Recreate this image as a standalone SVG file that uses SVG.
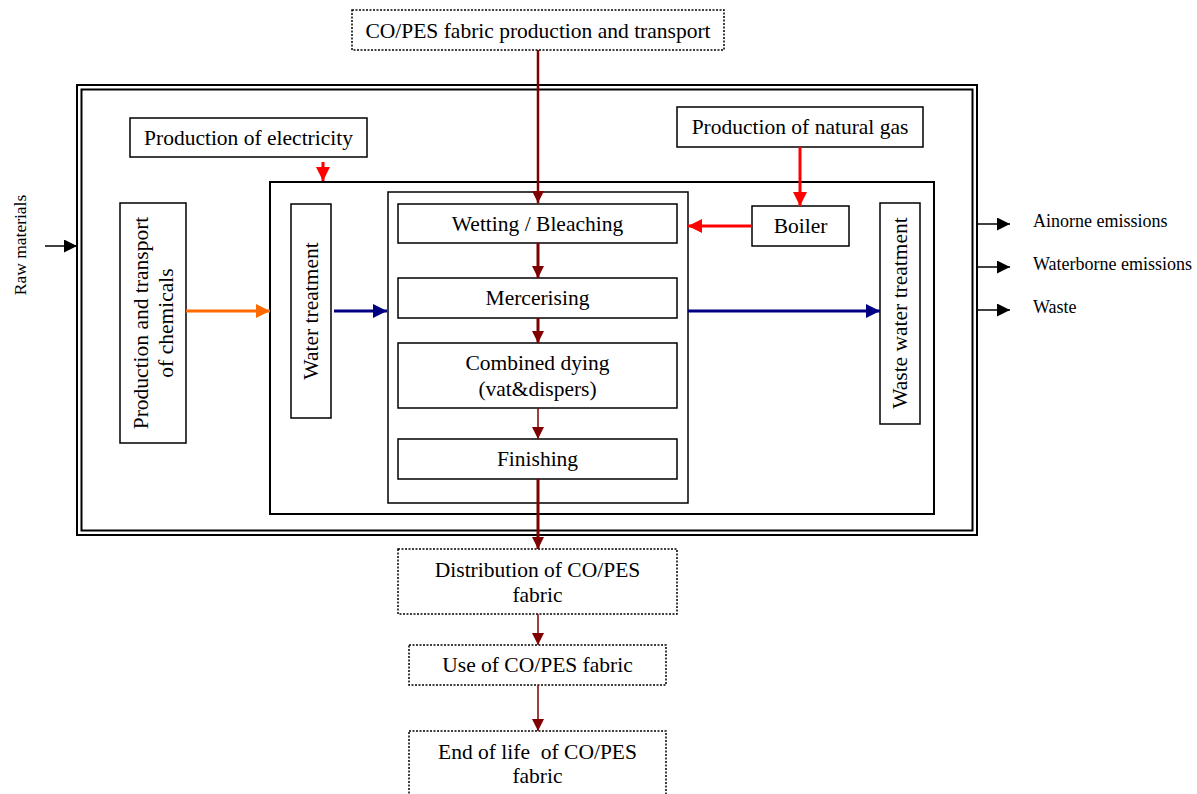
<svg xmlns="http://www.w3.org/2000/svg" width="1197" height="794" viewBox="0 0 1197 794">
<defs>
<style>
text{font-family:"Liberation Serif","Times New Roman",serif;fill:#000;text-anchor:middle}
.t{font-size:21.5px}
.s{font-size:18px;text-anchor:start}
.box{fill:#fff;stroke:#000;stroke-width:1.5}
.dot{fill:#fff;stroke:#000;stroke-width:1.5;stroke-dasharray:2 1.5}
.frame{fill:none;stroke:#000;stroke-width:2}
.dr{stroke:#7f0000;fill:none}
.red{stroke:#ff0000;stroke-width:3;fill:none}
.blue{stroke:#000080;stroke-width:3;fill:none}
.or{stroke:#ff6a00;stroke-width:3;fill:none}
.bk{stroke:#000;stroke-width:1.5;fill:none}
</style>
<marker id="mdr" viewBox="0 0 10 10" refX="10" refY="5" markerWidth="14" markerHeight="12" markerUnits="userSpaceOnUse" orient="auto"><path d="M0,0L10,5L0,10z" fill="#7f0000"/></marker>
<marker id="mred" viewBox="0 0 10 10" refX="10" refY="5" markerWidth="14" markerHeight="14" markerUnits="userSpaceOnUse" orient="auto"><path d="M0,0L10,5L0,10z" fill="#ff0000"/></marker>
<marker id="mblue" viewBox="0 0 10 10" refX="10" refY="5" markerWidth="14" markerHeight="14" markerUnits="userSpaceOnUse" orient="auto"><path d="M0,0L10,5L0,10z" fill="#000080"/></marker>
<marker id="mor" viewBox="0 0 10 10" refX="10" refY="5" markerWidth="14" markerHeight="14" markerUnits="userSpaceOnUse" orient="auto"><path d="M0,0L10,5L0,10z" fill="#ff6a00"/></marker>
<marker id="mbk" viewBox="0 0 10 10" refX="10" refY="5" markerWidth="14" markerHeight="13" markerUnits="userSpaceOnUse" orient="auto"><path d="M0,0L10,5L0,10z" fill="#000"/></marker>
</defs>
<rect width="1197" height="794" fill="#fff"/>

<g id="frame">
<rect class="frame" x="77" y="85" width="900" height="450"/>
<rect class="frame" x="81.5" y="89.5" width="891" height="441"/>
<rect class="box" x="270" y="182" width="664" height="332" style="stroke-width:2"/>
<rect class="box" x="388" y="192" width="300" height="311"/>
</g>

<g id="top">
<rect class="dot" x="352" y="10" width="372" height="40"/>
<text class="t" x="538" y="38">CO/PES fabric production and transport</text>
</g>
<g id="electricity">
<rect class="box" x="130" y="118" width="237" height="39"/>
<text class="t" x="248.5" y="145">Production of electricity</text>
</g>
<g id="gas">
<rect class="box" x="677" y="107" width="246" height="40"/>
<text class="t" x="800" y="134">Production of natural gas</text>
</g>
<g id="boiler">
<rect class="box" x="752" y="206" width="97" height="40"/>
<text class="t" x="800.5" y="233">Boiler</text>
</g>
<g id="chemicals">
<rect class="box" x="120" y="203" width="66" height="240"/>
<text class="t" transform="translate(153 323) rotate(-90)"><tspan x="0" y="-5">Production and transport</tspan><tspan x="0" y="20">of chemicals</tspan></text>
</g>
<g id="water">
<rect class="box" x="291" y="204" width="40" height="214"/>
<text class="t" transform="translate(318 311) rotate(-90)" x="0" y="0">Water treatment</text>
</g>
<g id="wastewater">
<rect class="box" x="880" y="203" width="40" height="221"/>
<text class="t" transform="translate(907 313) rotate(-90)" x="0" y="0">Waste water treatment</text>
</g>
<g id="wetting">
<rect class="box" x="398" y="204" width="279" height="39"/>
<text class="t" x="537.5" y="231">Wetting / Bleaching</text>
</g>
<g id="mercerising">
<rect class="box" x="398" y="278" width="279" height="40"/>
<text class="t" x="537.5" y="305">Mercerising</text>
</g>
<g id="dying">
<rect class="box" x="398" y="343" width="279" height="65"/>
<text class="t" x="537.5" y="370">Combined dying</text>
<text class="t" x="537.5" y="396">(vat&amp;dispers)</text>
</g>
<g id="finishing">
<rect class="box" x="398" y="439" width="279" height="40"/>
<text class="t" x="537.5" y="466">Finishing</text>
</g>
<g id="distribution">
<rect class="dot" x="398" y="549" width="279" height="65"/>
<text class="t" x="537.5" y="577">Distribution of CO/PES</text>
<text class="t" x="537.5" y="602">fabric</text>
</g>
<g id="use">
<rect class="dot" x="409" y="645" width="257" height="40"/>
<text class="t" x="537.5" y="672">Use of CO/PES fabric</text>
</g>
<g id="endoflife">
<rect class="dot" x="409" y="731" width="257" height="70"/>
<text class="t" x="537.5" y="759" style="white-space:pre">End of life  of CO/PES</text>
<text class="t" x="537.5" y="783">fabric</text>
</g>
<g id="labels">
<text class="s" transform="translate(26 245) rotate(-90)" style="text-anchor:middle;font-size:17.5px" x="0" y="0">Raw materials</text>
<text class="s" x="1033" y="227">Ainorne emissions</text>
<text class="s" x="1033" y="270">Waterborne emissions</text>
<text class="s" x="1033" y="313">Waste</text>
</g>

<g id="connectors">
<line class="dr" x1="538" y1="50" x2="538" y2="203" stroke-width="2.5" marker-end="url(#mdr)"/>
<line class="dr" x1="538" y1="243" x2="538" y2="278" stroke-width="3" marker-end="url(#mdr)"/>
<line class="dr" x1="538" y1="318" x2="538" y2="343" stroke-width="3" marker-end="url(#mdr)"/>
<line class="dr" x1="538" y1="408" x2="538" y2="439" stroke-width="1.5" marker-end="url(#mdr)"/>
<line class="dr" x1="538" y1="479" x2="538" y2="549" stroke-width="3" marker-end="url(#mdr)"/>
<line class="dr" x1="538" y1="614" x2="538" y2="645" stroke-width="1.5" marker-end="url(#mdr)"/>
<line class="dr" x1="538" y1="685" x2="538" y2="731" stroke-width="1.5" marker-end="url(#mdr)"/>
<line class="red" x1="323" y1="162" x2="323" y2="181" marker-end="url(#mred)"/>
<line class="red" x1="800" y1="147" x2="800" y2="206" marker-end="url(#mred)"/>
<line class="red" x1="752" y1="226" x2="688" y2="226" marker-end="url(#mred)"/>
<line class="or" x1="186" y1="311" x2="270" y2="311" marker-end="url(#mor)"/>
<line class="blue" x1="334" y1="311" x2="387" y2="311" marker-end="url(#mblue)"/>
<line class="blue" x1="688" y1="311" x2="880" y2="311" marker-end="url(#mblue)"/>
<line class="bk" x1="45" y1="246" x2="77" y2="246" marker-end="url(#mbk)"/>
<line class="bk" x1="977" y1="224" x2="1010" y2="224" marker-end="url(#mbk)"/>
<line class="bk" x1="977" y1="267" x2="1010" y2="267" marker-end="url(#mbk)"/>
<line class="bk" x1="977" y1="310" x2="1010" y2="310" marker-end="url(#mbk)"/>
</g>
</svg>
